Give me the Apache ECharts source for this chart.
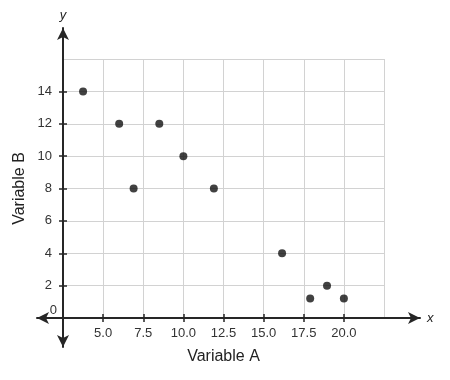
<!DOCTYPE html>
<html><head><meta charset="utf-8">
<script src="https://cdn.jsdelivr.net/npm/echarts@6/dist/echarts.min.js"></script>
<style>html,body{margin:0;padding:0;background:#fff}#c{width:450px;height:380px}</style>
</head><body><div id="c"></div>
<script>
var varA = [3.75, 6.0, 8.5, 10.0, 6.9, 11.9, 16.15, 17.9, 18.95, 20.0];
var varB = [14, 12, 12, 10, 8, 8, 4, 1.2, 2, 1.2];
var xTicks = [5, 7.5, 10, 12.5, 15, 17.5, 20];
var yTicks = [0, 2, 4, 6, 8, 10, 12, 14];

var font = 'Liberation Sans, Arial, sans-serif';
var axisColor = '#262626';
var grid0 = {left: 63, right: 66, top: 59, bottom: 62};
var chart = echarts.init(document.getElementById('c'));
chart.setOption({
  animation: false,
  grid: [
    grid0,
    {left: 37, right: 30, top: 59, bottom: 62},
    {left: 63, right: 66, top: 28, bottom: 33}
  ],
  xAxis: [
    {gridIndex: 0, type: 'value', min: 2.5, max: 22.5, interval: 2.5,
     axisLine: {show: false}, axisTick: {show: false}, axisLabel: {show: false},
     splitLine: {show: true, lineStyle: {color: '#d2d2d2', width: 1}},
     name: 'Variable A', nameLocation: 'middle', nameGap: 31,
     nameTextStyle: {fontFamily: font, fontSize: 16, color: '#222'}},
    {gridIndex: 0, type: 'value', min: 2.5, max: 22.5, position: 'bottom', offset: -4,
     axisLine: {show: false},
     axisTick: {show: true, customValues: xTicks, length: 8, lineStyle: {color: axisColor, width: 1.5}},
     axisLabel: {show: true, customValues: xTicks, margin: 13, fontFamily: font, fontSize: 13, color: '#333',
       formatter: function (v) { return v.toFixed(1); }},
     splitLine: {show: false}},
    {gridIndex: 1, type: 'value', min: 0, max: 1, position: 'bottom',
     axisLine: {show: true, onZero: false, symbol: ['arrow', 'arrow'], symbolSize: [9, 12],
       lineStyle: {color: axisColor, width: 2}},
     axisTick: {show: false}, axisLabel: {show: false}, splitLine: {show: false},
     name: 'x', nameGap: 7, nameTextStyle: {fontFamily: font, fontSize: 13, fontStyle: 'italic', color: '#222'}},
    {gridIndex: 2, type: 'value', show: false}
  ],
  yAxis: [
    {gridIndex: 0, type: 'value', min: 0, max: 16, interval: 2,
     axisLine: {show: false}, axisTick: {show: false}, axisLabel: {show: false},
     splitLine: {show: true, lineStyle: {color: '#d2d2d2', width: 1}},
     name: 'Variable B', nameLocation: 'middle', nameGap: 35,
     nameTextStyle: {fontFamily: font, fontSize: 16, color: '#222'}},
    {gridIndex: 0, type: 'value', min: 0, max: 16, position: 'left', offset: -4,
     axisLine: {show: false},
     axisTick: {show: true, customValues: yTicks.slice(1), length: 8, lineStyle: {color: axisColor, width: 1.5}},
     axisLabel: {show: true, customValues: yTicks, margin: 15, fontFamily: font, fontSize: 13, color: '#333',
       formatter: function (v) { return v === 0 ? '{z|' + v + '}' : String(v); },
       rich: {z: {fontFamily: font, fontSize: 13, color: '#333', padding: [0, -5, 16, 0]}}},
     splitLine: {show: false}},
    {gridIndex: 1, type: 'value', show: false},
    {gridIndex: 2, type: 'value', min: 0, max: 1, position: 'left',
     axisLine: {show: true, onZero: false, symbol: ['arrow', 'arrow'], symbolSize: [9, 12],
       lineStyle: {color: axisColor, width: 2}},
     axisTick: {show: false}, axisLabel: {show: false}, splitLine: {show: false},
     name: 'y', nameGap: 6, nameTextStyle: {fontFamily: font, fontSize: 13, fontStyle: 'italic', color: '#222'}}
  ],
  series: [{
    type: 'scatter', xAxisIndex: 0, yAxisIndex: 0, z: 10,
    symbol: 'circle', symbolSize: 8,
    itemStyle: {color: '#111'},
    data: varA.map(function (x, i) { return [x, varB[i]]; })
  }]
});
</script></body></html>
